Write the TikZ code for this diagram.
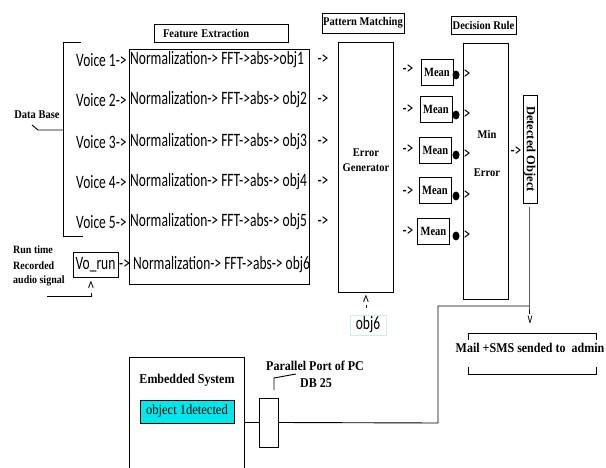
\documentclass[tikz,border=0pt]{standalone}
\usepackage{graphicx}
\usepackage{fontspec}
\setmainfont{Liberation Serif}
\newfontfamily\calfont{Carlito}
\usetikzlibrary{shapes.geometric}
\definecolor{lcyan}{RGB}{200,238,240}
\definecolor{bcyan}{RGB}{0,232,236}
\newcommand\ST[1]{\scalebox{1}[1.4]{#1}}
\newcommand\SB[1]{\scalebox{1}[1.12]{#1}}
\begin{document}
\begin{tikzpicture}[x=1pt,y=-1pt,
  lbl/.style={font=\bfseries\fontsize{10.5}{12}\selectfont, inner sep=0pt},
  biglbl/.style={font=\bfseries\fontsize{12}{14}\selectfont, inner sep=0pt},
  rtl/.style={font=\bfseries\fontsize{10}{12}\selectfont, inner sep=0pt, anchor=west},
  sf/.style={font=\calfont\fontsize{13.5}{16}\selectfont, inner sep=0pt},
  box/.style={draw, line width=0.9pt},
  ln/.style={line width=0.9pt},
  blob/.style={shape=ellipse, fill, inner sep=0pt, minimum width=7pt, minimum height=9pt}]
\useasboundingbox (0,0) rectangle (606,468);
% title boxes
\node[box, lbl, minimum width=134pt, minimum height=18pt, text width=126pt, align=left] (fet) at (221,33) {\hspace*{5pt}\SB{Feature Extraction}};
\node[box, lbl, minimum width=82pt, minimum height=20pt] (pmt) at (363,23) {\SB{Pattern Matching}};
\node[box, lbl, minimum width=65pt, minimum height=18pt] (drt) at (483.5,25) {\SB{Decision Rule}};
% feature extraction box
\node[box, minimum width=180pt, minimum height=235pt] (fe) at (219,166.5) {};
% data base bracket
\draw[ln] (81,42) -- (63,42) -- (63,236) -- (83,236);
\node[lbl] (db) at (37,115) {\SB{Data Base}};
\draw[ln] (32,125) -- (38,130) -- (63,130);
% rows
\node[sf, anchor=west] (v1) at (76,60) {\ST{Voice 1->}};
\node[sf, anchor=west] (n1) at (130,60) {\ST{Normalization-> FFT->abs->obj1}};
\foreach \i/\y in {2/100,3/142,4/182,5/222} {
  \node[sf, anchor=west] (v\i) at (76,\y) {\ST{Voice \i->}};
  \node[sf, anchor=west] (n\i) at (130,\y) {\ST{Normalization-> FFT->abs-> obj\i}};
}
\foreach \i/\y in {1/60,2/100,3/142,4/182,5/222} {
  \node[sf] (a\i) at (323,\y) {\ST{->}};
}
% run time row
\node[box, sf, minimum width=45pt, minimum height=25pt] (vorun) at (95.5,264.5) {\ST{Vo\_run}};
\node[sf, anchor=west] (vra) at (119,265) {\ST{->}};
\node[sf, anchor=west] (n6) at (133,265) {\ST{Normalization-> FFT->abs-> obj6}};
\node[rtl] (rt1) at (13,250) {\SB{Run time}};
\node[rtl] (rt2) at (13,266) {\SB{Recorded}};
\node[rtl] (rt3) at (13,281) {\SB{audio signal}};
\node[sf] (car1) at (91,288) {\ST{\textasciicircum}};
\draw[ln] (47,296) -- (91,296) -- (91,293);
% error generator
\node[box, minimum width=55pt, minimum height=250pt] (eg) at (365.5,167) {};
\node[lbl] (egl1) at (366,153) {\SB{Error}};
\node[lbl] (egl2) at (366,168) {\SB{Generator}};
\node[sf] (car2) at (366,302) {\ST{\textasciicircum}};
\draw[line width=0.6pt] (366,305) -- (366,308);
\node[sf, draw=lcyan, line width=0.8pt, minimum width=36pt, minimum height=20pt] (o6) at (368,325) {\ST{obj6}};
% mean boxes
\foreach \i/\x/\y/\d/\p in {1/437/72/75/70, 2/436/109.5/115/110, 3/435.5/150/155/150, 4/435/190/196/192, 5/433.5/231/236/232} {
  \node[box, lbl, font=\bfseries\fontsize{10.5}{12}\selectfont, minimum width=32pt, minimum height=26pt] (m\i) at (\x,\y) {\scalebox{1}[1.2]{Mean}};
  \node[sf] (p\i) at (408,\p) {\ST{->}};
  \node[blob] (b\i) at (456,\d) {};
  \node[sf] (g\i) at (467,\d) {\ST{>}};
}
% min error
\node[box, minimum width=45pt, minimum height=256pt] (me) at (485.5,171) {};
\node[lbl] (mn) at (487,134) {\SB{Min}};
\node[lbl] (mer) at (487,173) {\SB{Error}};
% detected object
\node[sf] (da) at (516,152) {\ST{->}};
\node[box, minimum width=14pt, minimum height=108pt] (do) at (530,149) {};
\node[biglbl, font=\bfseries\fontsize{12.5}{14}\selectfont, rotate=-90] (dol) at (do.center) {Detected Object};
\coordinate (jn) at (529,306);
\coordinate (cor) at (438,306);
\coordinate (cor2) at (438,423);
\draw[ln] (529,207) -- (jn) -- (529,314);
\node[sf, font=\calfont\fontsize{11}{12}\selectfont] (vv) at (530,320) {\ST{v}};
% mail
\node[biglbl] (mail) at (530,348) {\SB{Mail +SMS sended to\ \ admin}};
\draw[ln] (468,340) -- (468,333) -- (596,333) -- (596,340);
\draw[ln] (468,367) -- (468,374) -- (596,374) -- (596,367);
% embedded system
\node[box, minimum width=115pt, minimum height=130pt, anchor=north west] (emb) at (129,357) {};
\node[biglbl] (embl) at (187,380) {\SB{Embedded System}};
\node[draw, line width=0.9pt, fill=bcyan, minimum width=94pt, minimum height=23pt, font=\fontsize{12.5}{14}\selectfont, inner sep=0pt] (od) at (187,411.5) {\SB{object 1detected}};
% port
\node[box, minimum width=19pt, minimum height=49pt] (port) at (268.5,422.5) {};
\node[biglbl] (ppl) at (315,366) {\SB{Parallel Port of PC}};
\node[biglbl] (dbl) at (316,383) {\SB{DB 25}};
\draw[ln] (274,390) -- (274,378) -- (296,374);
\draw[ln] (port.west -| emb.east) -- (port.west);
\draw[ln] (port.east) -- (cor2) -- (cor) -- (jn);
\end{tikzpicture}
\end{document}
